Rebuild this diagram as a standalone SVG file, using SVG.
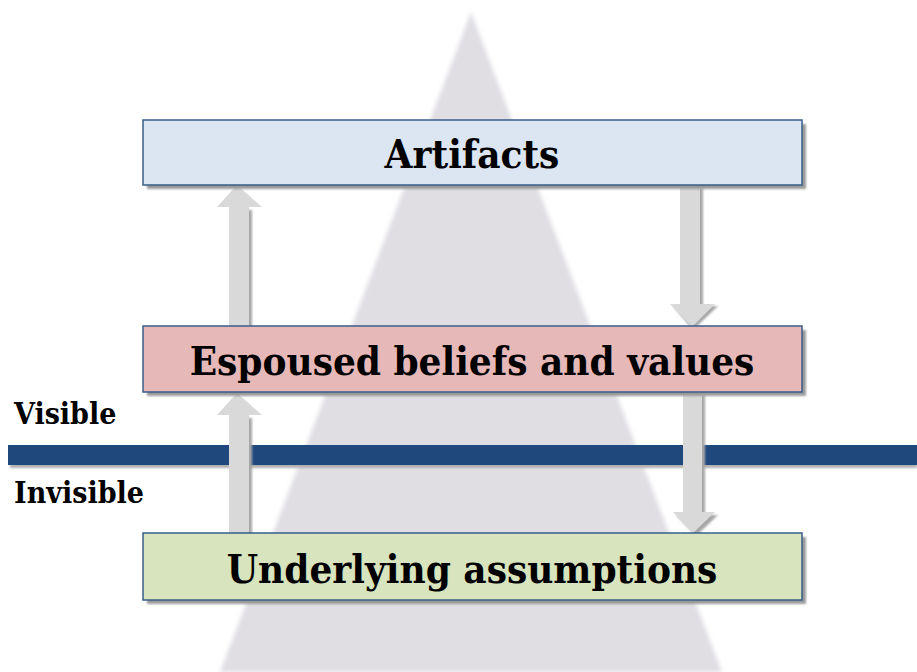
<svg xmlns="http://www.w3.org/2000/svg" width="917" height="672" viewBox="0 0 917 672">
  <style>
    .lbl { font-family: "DejaVu Serif Condensed", "DejaVu Serif", "Liberation Serif", serif; font-weight: bold; fill: #000; }
    .box { stroke: #385d8a; stroke-width: 1.5; }
    .arrow { fill: #d9d9d9; }
    .ashadow { fill: #a6a6a6; }
  </style>
  <defs>
    <filter id="soft" x="-10%" y="-10%" width="120%" height="120%">
      <feGaussianBlur stdDeviation="2"/>
    </filter>
    <filter id="shadow" x="-5%" y="-20%" width="115%" height="150%">
      <feGaussianBlur stdDeviation="1"/>
    </filter>
  </defs>

  <rect width="917" height="672" fill="#ffffff"/>

  <!-- backdrop triangle -->
  <polygon points="471,12 220,672 722,672" fill="#e0dee3" filter="url(#soft)"/>

  <!-- visibility divider -->
  <g id="divider">
    <rect x="10" y="448" width="907" height="20" fill="#b0b0b0" filter="url(#shadow)"/>
    <rect x="8" y="445" width="909" height="20" fill="#1f497d"/>
  </g>

  <g id="connectors">
    <!-- Espoused -> Artifacts (up) -->
    <polygon class="ashadow" points="232,210 252,210 252,329 232,329" filter="url(#shadow)"/>
    <polygon class="arrow" points="237,185 262,207 249,207 249,326 229,326 229,207 217,207"/>
    <!-- Artifacts -> Espoused (down) -->
    <polygon class="ashadow" points="683,188 703,188 703,306 718,306 693,330 673,306 683,306" filter="url(#shadow)"/>
    <polygon class="arrow" points="680,185 700,185 700,304 715,304 692,327 670,304 680,304"/>
    <!-- Underlying -> Espoused (up) -->
    <polygon class="ashadow" points="232,418 252,418 252,538 232,538" filter="url(#shadow)"/>
    <polygon class="arrow" points="237,393 262,415 249,415 249,535 229,535 229,415 217,415"/>
    <!-- Espoused -> Underlying (down) -->
    <polygon class="ashadow" points="686,395 705,395 705,515 718,515 696,536 676,515 686,515" filter="url(#shadow)"/>
    <polygon class="arrow" points="683,392 702,392 702,512 715,512 693,533 673,512 683,512"/>
  </g>

  <g id="artifacts">
    <rect x="147" y="124" width="659" height="65" fill="#999" filter="url(#shadow)"/>
    <rect class="box" x="143" y="120" width="659" height="65" fill="#dce6f2"/>
    <text class="lbl" x="472" y="168" font-size="40" text-anchor="middle">Artifacts</text>
  </g>

  <g id="espoused">
    <rect x="147" y="330" width="659" height="66" fill="#999" filter="url(#shadow)"/>
    <rect class="box" x="143" y="326" width="659" height="66" fill="#e6b9b8"/>
    <text class="lbl" x="472" y="375" font-size="40" text-anchor="middle">Espoused beliefs and values</text>
  </g>

  <g id="underlying">
    <rect x="147" y="537" width="659" height="67" fill="#999" filter="url(#shadow)"/>
    <rect class="box" x="143" y="533" width="659" height="67" fill="#d7e4bd"/>
    <text class="lbl" x="472" y="583" font-size="40" text-anchor="middle">Underlying assumptions</text>
  </g>

  <g id="labels">
    <text class="lbl" x="14" y="424" font-size="30">Visible</text>
    <text class="lbl" x="14" y="503" font-size="30">Invisible</text>
  </g>
</svg>
